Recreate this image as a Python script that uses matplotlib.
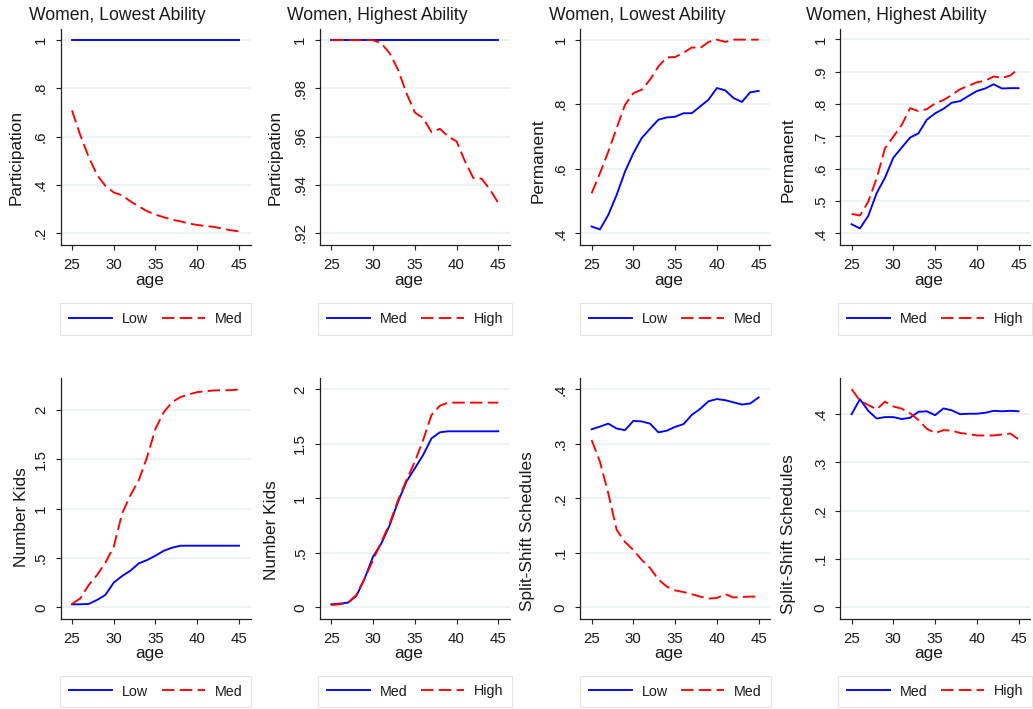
import matplotlib
matplotlib.use("Agg")
import matplotlib.pyplot as plt

plt.rcParams['font.family'] = ['Liberation Sans', 'DejaVu Sans']
plt.rcParams['lines.scale_dashes'] = False

ages = [25, 26, 27, 28, 29, 30, 31, 32, 33, 34, 35, 36, 37, 38, 39, 40, 41, 42, 43, 44, 45]

part_low_lowest = [1.0, 1.0, 1.0, 1.0, 1.0, 1.0, 1.0, 1.0, 1.0, 1.0, 1.0, 1.0, 1.0, 1.0, 1.0, 1.0, 1.0, 1.0, 1.0, 1.0, 1.0]
part_med_lowest = [0.708, 0.605, 0.515, 0.441, 0.395, 0.368, 0.356, 0.331, 0.310, 0.290, 0.276,
                   0.265, 0.255, 0.248, 0.239, 0.233, 0.229, 0.225, 0.218, 0.211, 0.207]

part_med_highest = [1.0, 1.0, 1.0, 1.0, 1.0, 1.0, 1.0, 1.0, 1.0, 1.0, 1.0, 1.0, 1.0, 1.0, 1.0, 1.0, 1.0, 1.0, 1.0, 1.0, 1.0]
part_high_highest = [1.0, 1.0, 1.0, 1.0, 1.0, 1.0, 0.9986, 0.9945, 0.9876, 0.978, 0.970,
                     0.9676, 0.9618, 0.9632, 0.960, 0.958, 0.9497, 0.9428, 0.9425, 0.938, 0.9324]

perm_low_lowest = [0.421, 0.412, 0.457, 0.519, 0.591, 0.648, 0.695, 0.724, 0.752, 0.759, 0.761,
                   0.772, 0.772, 0.793, 0.814, 0.850, 0.843, 0.819, 0.807, 0.837, 0.841]
perm_med_lowest = [0.524, 0.586, 0.653, 0.726, 0.798, 0.834, 0.845, 0.876, 0.917, 0.945, 0.946,
                   0.959, 0.976, 0.974, 0.993, 1.0, 0.993, 1.0, 1.0, 1.0, 1.0]

perm_med_highest = [0.428, 0.415, 0.454, 0.524, 0.572, 0.634, 0.665, 0.696, 0.709, 0.751, 0.771,
                    0.785, 0.804, 0.809, 0.825, 0.840, 0.848, 0.861, 0.848, 0.849, 0.849]
perm_high_highest = [0.460, 0.455, 0.498, 0.570, 0.663, 0.699, 0.735, 0.787, 0.778, 0.784, 0.802,
                     0.812, 0.828, 0.846, 0.856, 0.867, 0.872, 0.885, 0.881, 0.888, 0.910]

kids_low_lowest = [0.030, 0.030, 0.034, 0.074, 0.125, 0.250, 0.317, 0.371, 0.445, 0.479, 0.523,
                   0.573, 0.604, 0.624, 0.624, 0.624, 0.624, 0.624, 0.624, 0.624, 0.624]
kids_med_lowest = [0.034, 0.090, 0.226, 0.327, 0.452, 0.614, 0.951, 1.136, 1.288, 1.524, 1.811,
                   1.979, 2.080, 2.131, 2.158, 2.181, 2.190, 2.198, 2.200, 2.200, 2.208]

kids_med_highest = [0.028, 0.034, 0.043, 0.104, 0.266, 0.465, 0.587, 0.755, 0.969, 1.153, 1.275,
                    1.398, 1.550, 1.606, 1.615, 1.615, 1.615, 1.615, 1.615, 1.615, 1.615]
kids_high_highest = [0.021, 0.028, 0.043, 0.113, 0.266, 0.434, 0.602, 0.771, 0.985, 1.168, 1.336,
                     1.535, 1.765, 1.850, 1.878, 1.878, 1.878, 1.878, 1.878, 1.878, 1.878]

split_low_lowest = [0.3266, 0.3315, 0.337, 0.328, 0.325, 0.342, 0.341, 0.337, 0.321, 0.324, 0.331,
                    0.336, 0.353, 0.364, 0.378, 0.382, 0.380, 0.376, 0.372, 0.374, 0.385]
split_med_lowest = [0.307, 0.267, 0.209, 0.142, 0.120, 0.105, 0.087, 0.072, 0.051, 0.038, 0.031,
                    0.028, 0.024, 0.0196, 0.016, 0.017, 0.024, 0.018, 0.019, 0.0196, 0.0196]

split_med_highest = [0.400, 0.431, 0.407, 0.391, 0.394, 0.394, 0.390, 0.3925, 0.405, 0.406, 0.398,
                     0.412, 0.408, 0.400, 0.401, 0.401, 0.403, 0.407, 0.406, 0.407, 0.406]
split_high_highest = [0.452, 0.428, 0.419, 0.410, 0.426, 0.416, 0.4115, 0.402, 0.388, 0.370, 0.361,
                      0.367, 0.366, 0.361, 0.359, 0.356, 0.356, 0.356, 0.358, 0.360, 0.348]

titles = ["Women, Lowest Ability", "Women, Highest Ability", "Women, Lowest Ability", "Women, Highest Ability"]
ylabels = ["Participation", "Participation", "Permanent", "Permanent",
           "Number Kids", "Number Kids", "Split-Shift Schedules", "Split-Shift Schedules"]
legend_labels = [["Low", "Med"], ["Med", "High"], ["Low", "Med"], ["Med", "High"],
                 ["Low", "Med"], ["Med", "High"], ["Low", "Med"], ["Med", "High"]]
x_ticks = [25, 30, 35, 40, 45]
y_ticks = [[0.2, 0.4, 0.6, 0.8, 1.0], [0.92, 0.94, 0.96, 0.98, 1.0], [0.4, 0.6, 0.8, 1.0],
           [0.4, 0.5, 0.6, 0.7, 0.8, 0.9, 1.0], [0, 0.5, 1, 1.5, 2], [0, 0.5, 1, 1.5, 2],
           [0, 0.1, 0.2, 0.3, 0.4], [0, 0.1, 0.2, 0.3, 0.4]]
y_ticklabels = [[".2", ".4", ".6", ".8", "1"], [".92", ".94", ".96", ".98", "1"], [".4", ".6", ".8", "1"],
                [".4", ".5", ".6", ".7", ".8", ".9", "1"], ["0", ".5", "1", "1.5", "2"],
                ["0", ".5", "1", "1.5", "2"], ["0", ".1", ".2", ".3", ".4"], ["0", ".1", ".2", ".3", ".4"]]
series_blue = [part_low_lowest, part_med_highest, perm_low_lowest, perm_med_highest,
               kids_low_lowest, kids_med_highest, split_low_lowest, split_med_highest]
series_red = [part_med_lowest, part_high_highest, perm_med_lowest, perm_high_highest,
              kids_med_lowest, kids_high_highest, split_med_lowest, split_high_highest]

# layout (pixels)
W, H = 1033, 709
fig = plt.figure(figsize=(W / 100, H / 100), dpi=100)
fig.patch.set_facecolor("white")

lefts = [60.7, 320.0, 580.3, 840.3]
ax_w = 190.0
rows = [(29.0, 245.0), (378.0, 619.0)]
ylims = [(0.150, 1.046), (0.915, 1.0046), (0.3637, 1.033), (0.3637, 1.032),
         (-0.119, 2.324), (-0.107, 2.104), (-0.0215, 0.4207), (-0.0242, 0.475)]
ylab_off = [-45, -45, -42, -52, -39, -48, -53, -52]
ylab_yc = [157.5, 157.5, 161, 159.5, 517, 530, 531, 534]
title_x = [29.3, 286.7, 549.3, 806.0]

txt_col = "#1a1a1a"
grid_col = "#e8eff2"

for i in range(8):
    r, c = divmod(i, 4)
    top, bot = rows[r]
    ax_h = bot - top
    ax = fig.add_axes([lefts[c] / W, (H - bot) / H, ax_w / W, ax_h / H])
    ax.set_xlim(23.65, 46.4)
    ax.set_ylim(*ylims[i])
    for yv in y_ticks[i]:
        ax.axhline(yv, color=grid_col, lw=1.1, zorder=0)
    ax.plot(ages, series_blue[i], color="#0000ff", lw=1.35, label=legend_labels[i][0], zorder=2)
    ax.plot(ages, series_red[i], color="#ff0000", lw=1.35, linestyle=(0, (9.0, 3.8)),
            label=legend_labels[i][1], zorder=3)
    ax.set_xticks(x_ticks)
    ax.set_xticklabels([str(v) for v in x_ticks])
    ax.set_yticks(y_ticks[i])
    ax.set_yticklabels(y_ticklabels[i], rotation=90, va="center")
    ax.tick_params(axis="both", direction="out", length=3.6, width=0.8, pad=5.6,
                   labelsize=10.8, colors="#222222", labelcolor=txt_col)
    for s in ["top", "right"]:
        ax.spines[s].set_visible(False)
    for s in ["left", "bottom"]:
        ax.spines[s].set_color("#222222")
        ax.spines[s].set_linewidth(0.9)
    ax.set_ylabel(ylabels[i], fontsize=12.4, color=txt_col, va="center")
    ax.yaxis.set_label_coords(ylab_off[i] / ax_w, (bot - ylab_yc[i]) / ax_h)
    ax.set_xlabel("age", fontsize=12.4, color=txt_col, va="baseline")
    xl_y = 284.5 if r == 0 else 658.0
    ax.xaxis.set_label_coords(0.5 - 6.3 / ax_w, (bot - xl_y) / ax_h)
    leg_y = 319.0 if r == 0 else 691.5
    leg = ax.legend(loc="center", bbox_to_anchor=(0.5, (bot - leg_y) / ax_h), ncol=2,
                    fontsize=10.3, frameon=True, fancybox=False, handlelength=3.0,
                    handletextpad=0.7, columnspacing=0.95, borderpad=0.6, borderaxespad=0)
    leg.get_frame().set_edgecolor("#dcdcdc")
    leg.get_frame().set_linewidth(0.8)
    for t in leg.get_texts():
        t.set_color(txt_col)
    if r == 0:
        fig.text(title_x[c] / W, 1 - 20.5 / H, titles[c], fontsize=12.7, color=txt_col,
                 ha="left", va="baseline")

fig.savefig("out.png", dpi=100, facecolor="white")
